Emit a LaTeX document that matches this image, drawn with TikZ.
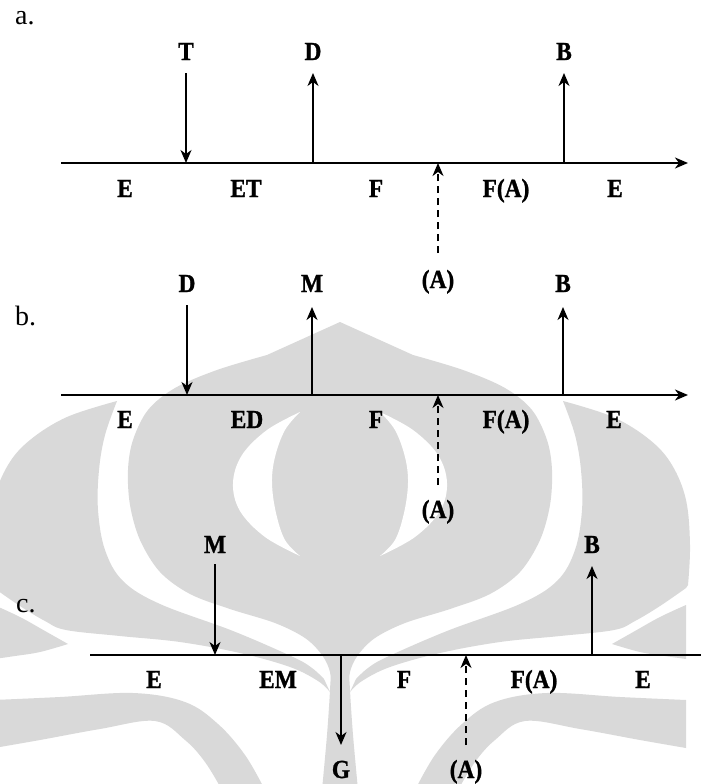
\documentclass[tikz,border=0pt]{standalone}
\usepackage{graphicx}
\usepackage{fontspec}
\setmainfont{Liberation Serif}
\newfontfamily\labfont{Liberation Serif}[BoldFeatures={FakeBold=1.2}]
\usetikzlibrary{arrows.meta}
\definecolor{wmgray}{RGB}{217,217,217}
\newcommand{\lb}[1]{\scalebox{0.9}[1]{#1}}
\newcommand{\wmside}{%
  % outer lobe with its tongue
  \fill[wm] plot[smooth,tension=0.6] coordinates {(117,401) (67,417) (30,440) (8,465) (-6,500) (-10,545) (-8,585)}
    -- plot[smooth,tension=0.6] coordinates {(-6,588) (20,606) (45,621) (66,630) (120,636) (180,642) (240,653) (290,667) (318,681) (330,692)}
    -- plot[smooth,tension=0.6] coordinates {(324,679) (312,668) (293,657) (233,631) (160,604) (123,581) (105,550) (98,510) (99,470) (105,435) (117,401)}
    -- cycle;
  % small wedge at the edge
  \fill[wm] plot[smooth,tension=0.6] coordinates {(-6,605) (20,617) (45,631) (68,644)}
    -- plot[smooth,tension=0.6] coordinates {(68,644) (40,652) (15,656) (-6,659)} -- cycle;
  % lower wing
  \fill[wm] plot[smooth,tension=0.6] coordinates {(-6,700) (60,697) (133,693) (185,702) (218,724) (245,755) (265,790)}
    -- plot[smooth,tension=0.6] coordinates {(222,790) (205,762) (185,740) (155,721) (100,729) (40,740) (-6,748)} -- cycle;
}
\newcommand{\wmcrescent}{%
  \fill[white] plot[smooth,tension=0.6] coordinates {(300,412) (267,430) (242,455) (233,483) (240,511) (265,537) (300,556)}
    -- plot[smooth,tension=0.6] coordinates {(300,556) (285,540) (276,513) (272,483) (275,457) (285,430) (300,412)} -- cycle;
}
\begin{document}
\begin{tikzpicture}[x=1pt,y=-1pt,
  lab/.style={font=\labfont\fontsize{26}{26}\selectfont\bfseries, inner sep=0pt, anchor=base},
  panel/.style={font=\fontsize{28}{28}\selectfont, inner sep=0pt, anchor=base west},
  axisline/.style={line width=1.9pt, -{Stealth[length=13pt,width=11pt,inset=4pt]}},
  plainaxis/.style={line width=1.9pt},
  arr/.style={line width=1.4pt, -{Stealth[length=13pt,width=11pt,inset=4pt]}},
  darr/.style={arr, dash pattern=on 7pt off 5pt},
  wm/.style={fill=wmgray, draw=none}]
\useasboundingbox (0,0) rectangle (701,784);
\fill[white] (0,0) rectangle (701,784);

% ---------- watermark ----------
\fill[wm] (340,322) -- (267,355)
  -- plot[smooth,tension=0.55] coordinates {(267,355) (217,370) (175,388) (148,410) (133,440) (128,470) (130,505) (140,540) (160,572) (190,594) (230,609) (275,623) (305,638) (322,655) (330,672) (330,690) (327,735) (322,790)}
  -- plot[smooth,tension=0.55] coordinates {(358,790) (353,735) (350,690) (350,672) (358,655) (375,638) (405,623) (450,609) (490,594) (520,572) (540,540) (550,505) (552,470) (547,440) (532,410) (505,388) (463,370) (413,355)}
  -- cycle;
\wmside
\begin{scope}[shift={(680,0)},xscale=-1]
  \wmside
\end{scope}
\wmcrescent
\begin{scope}[shift={(680,0)},xscale=-1]
  \wmcrescent
\end{scope}

% ---------- panel a ----------
\node[panel] (pa) at (15,25) {a.};
\coordinate (a0) at (61,163);
\coordinate (a1) at (688,163);
\draw[axisline] (a0) -- (a1);
\node[lab] (aT) at (186,60) {\lb{T}};
\node[lab] (aD) at (313,60) {\lb{D}};
\node[lab] (aB) at (564,60) {\lb{B}};
\coordinate (aTs) at (186,73);  \coordinate (aTe) at (186,163);
\coordinate (aDs) at (313,163); \coordinate (aDe) at (313,73);
\coordinate (aBs) at (564,163); \coordinate (aBe) at (564,73);
\coordinate (aAs) at (438,253); \coordinate (aAe) at (438,163);
\draw[arr] (aTs) -- (aTe);
\draw[arr] (aDs) -- (aDe);
\draw[arr] (aBs) -- (aBe);
\draw[darr] (aAs) -- (aAe);
\node[lab] (aL1) at (125,197) {\lb{E}};
\node[lab] (aL2) at (246,197) {\lb{ET}};
\node[lab] (aL3) at (376,197) {\lb{F}};
\node[lab] (aL4) at (506,197) {\lb{F(A)}};
\node[lab] (aL5) at (615,197) {\lb{E}};
\node[lab] (aA) at (438,288) {\lb{(A)}};

% ---------- panel b ----------
\node[panel] (pb) at (15,325) {b.};
\coordinate (b0) at (61,395);
\coordinate (b1) at (688,395);
\draw[axisline] (b0) -- (b1);
\node[lab] (bD) at (187,292) {\lb{D}};
\node[lab] (bM) at (312,292) {\lb{M}};
\node[lab] (bB) at (563,292) {\lb{B}};
\coordinate (bDs) at (187,305); \coordinate (bDe) at (187,395);
\coordinate (bMs) at (312,395); \coordinate (bMe) at (312,307);
\coordinate (bBs) at (563,395); \coordinate (bBe) at (563,307);
\coordinate (bAs) at (438,485); \coordinate (bAe) at (438,395);
\draw[arr] (bDs) -- (bDe);
\draw[arr] (bMs) -- (bMe);
\draw[arr] (bBs) -- (bBe);
\draw[darr] (bAs) -- (bAe);
\node[lab] (bL1) at (125,428) {\lb{E}};
\node[lab] (bL2) at (247,428) {\lb{ED}};
\node[lab] (bL3) at (376,428) {\lb{F}};
\node[lab] (bL4) at (506,428) {\lb{F(A)}};
\node[lab] (bL5) at (614,428) {\lb{E}};
\node[lab] (bA) at (438,518) {\lb{(A)}};

% ---------- panel c ----------
\node[panel] (pc) at (16,612) {c.};
\coordinate (c0) at (90,655);
\coordinate (c1) at (701,655);
\draw[plainaxis] (c0) -- (c1);
\node[lab] (cM) at (215,553) {\lb{M}};
\node[lab] (cB) at (592,553) {\lb{B}};
\coordinate (cMs) at (215,564); \coordinate (cMe) at (215,655);
\coordinate (cBs) at (592,655); \coordinate (cBe) at (592,566);
\coordinate (cGs) at (341,655); \coordinate (cGe) at (341,745);
\coordinate (cAs) at (466,745); \coordinate (cAe) at (466,655);
\draw[arr] (cMs) -- (cMe);
\draw[arr] (cBs) -- (cBe);
\draw[arr] (cGs) -- (cGe);
\draw[darr] (cAs) -- (cAe);
\node[lab] (cL1) at (154,688) {\lb{E}};
\node[lab] (cL2) at (278,688) {\lb{EM}};
\node[lab] (cL3) at (404,688) {\lb{F}};
\node[lab] (cL4) at (534,688) {\lb{F(A)}};
\node[lab] (cL5) at (643,688) {\lb{E}};
\node[lab] (cG) at (341,778) {\lb{G}};
\node[lab] (cA) at (466,778) {\lb{(A)}};
\end{tikzpicture}
\end{document}
